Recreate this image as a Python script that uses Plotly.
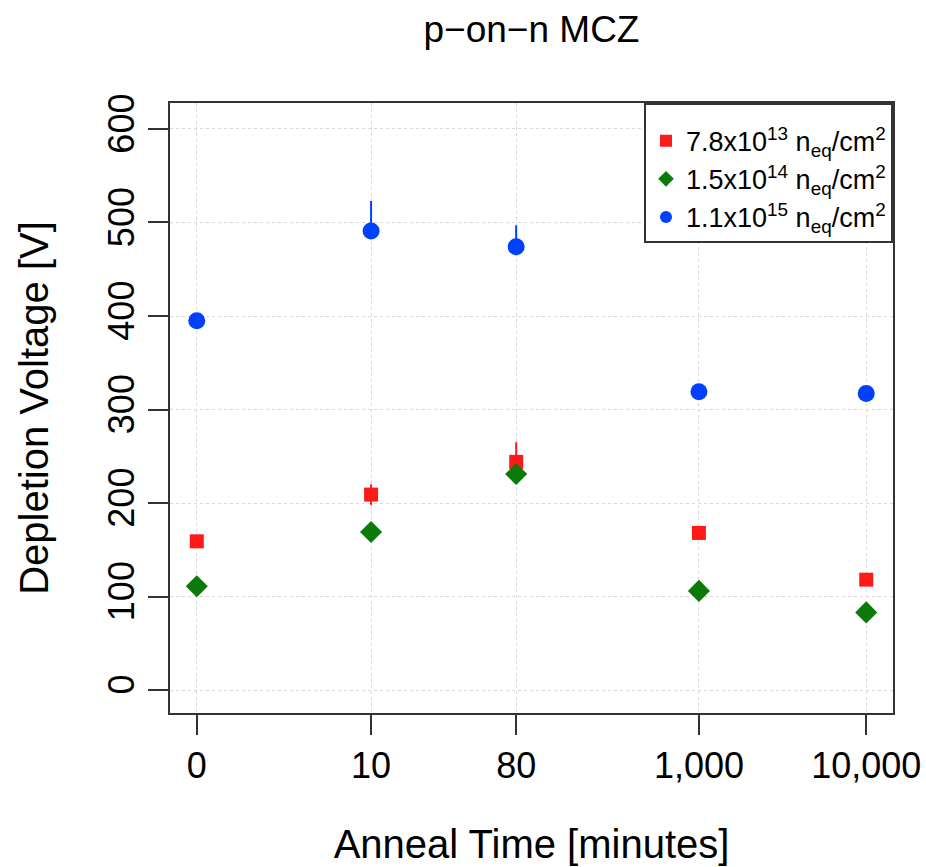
import plotly.graph_objects as go

anneal_minutes = [0, 10, 80, 1000, 10000]
tick_labels = ["0", "10", "80", "1,000", "10,000"]

series_names = [
    "7.8x10<sup>13</sup> n<sub>eq</sub>/cm<sup>2</sup>",
    "1.5x10<sup>14</sup> n<sub>eq</sub>/cm<sup>2</sup>",
    "1.1x10<sup>15</sup> n<sub>eq</sub>/cm<sup>2</sup>",
]
v_red = [159, 209, 244, 168, 118]
v_green = [111, 169, 231, 106, 83]
v_blue = [395, 491, 474, 319, 317]
err_red_up = [0, 11, 21, 0, 0]
err_red_down = [0, 11, 0, 0, 0]
err_green_up = [0, 0, 0, 0, 0]
err_green_down = [0, 0, 0, 0, 0]
err_blue_up = [0, 32, 23, 0, 0]
err_blue_down = [0, 3, 3, 0, 0]

# the time axis is log10(t + 1)
x_vals = [t + 1 for t in anneal_minutes]

styles = [
    dict(color="#FF1A1A", symbol="square", size=14),
    dict(color="#0A7A0A", symbol="diamond", size=17),
    dict(color="#0040FF", symbol="circle", size=17),
]
values = [v_red, v_green, v_blue]
ups = [err_red_up, err_green_up, err_blue_up]
downs = [err_red_down, err_green_down, err_blue_down]

fig = go.Figure()
for name, st, v, up, dn in zip(series_names, styles, values, ups, downs):
    fig.add_trace(go.Scatter(
        x=x_vals, y=v, mode="markers", name=name,
        marker=dict(color=st["color"], symbol=st["symbol"], size=st["size"], line=dict(width=0)),
        error_y=dict(type="data", symmetric=False, array=up, arrayminus=dn,
                     color=st["color"], thickness=2, width=0),
    ))

font_family = "Liberation Sans, Arial, Helvetica, sans-serif"
fig.update_layout(
    width=926, height=867,
    margin=dict(l=170, r=33, t=103, b=154),
    paper_bgcolor="white", plot_bgcolor="white",
    font=dict(family=font_family, color="black"),
    title=dict(text="p−on−n MCZ", x=0.5, xref="paper", xanchor="center",
               y=1 - 29 / 867, yref="container", yanchor="middle",
               font=dict(size=37, color="black")),
    showlegend=True,
    legend=dict(x=1, y=1, xanchor="right", yanchor="top",
                bgcolor="white", bordercolor="#333", borderwidth=2,
                font=dict(size=27, color="black"), itemsizing="constant",
                itemwidth=30, tracegroupgap=0,
                title=dict(text=" ", font=dict(size=9))),
    xaxis=dict(
        type="log", range=[-0.16, 4.16], automargin=False,
        tickvals=x_vals, ticktext=tick_labels,
        ticks="outside", ticklen=20, tickwidth=2, tickcolor="#333",
        tickfont=dict(size=36), showline=True, linewidth=2, linecolor="#333",
        mirror=True, showgrid=True, gridcolor="#d8d8d8", griddash="dot", gridwidth=1,
        zeroline=False,
        title=dict(text="Anneal Time [minutes]", font=dict(size=40), standoff=45),
    ),
    yaxis=dict(
        range=[-24.6, 627.8], automargin=False,
        tickvals=[0, 100, 200, 300, 400, 500, 600],
        ticks="outside", ticklen=20, tickwidth=2, tickcolor="#333",
        tickangle=-90, tickfont=dict(size=36),
        showline=True, linewidth=2, linecolor="#333", mirror=True,
        showgrid=True, gridcolor="#d8d8d8", griddash="dot", gridwidth=1,
        zeroline=False,
        title=dict(text="Depletion Voltage [V]", font=dict(size=40), standoff=40),
    ),
)

fig.write_html("out.html")
